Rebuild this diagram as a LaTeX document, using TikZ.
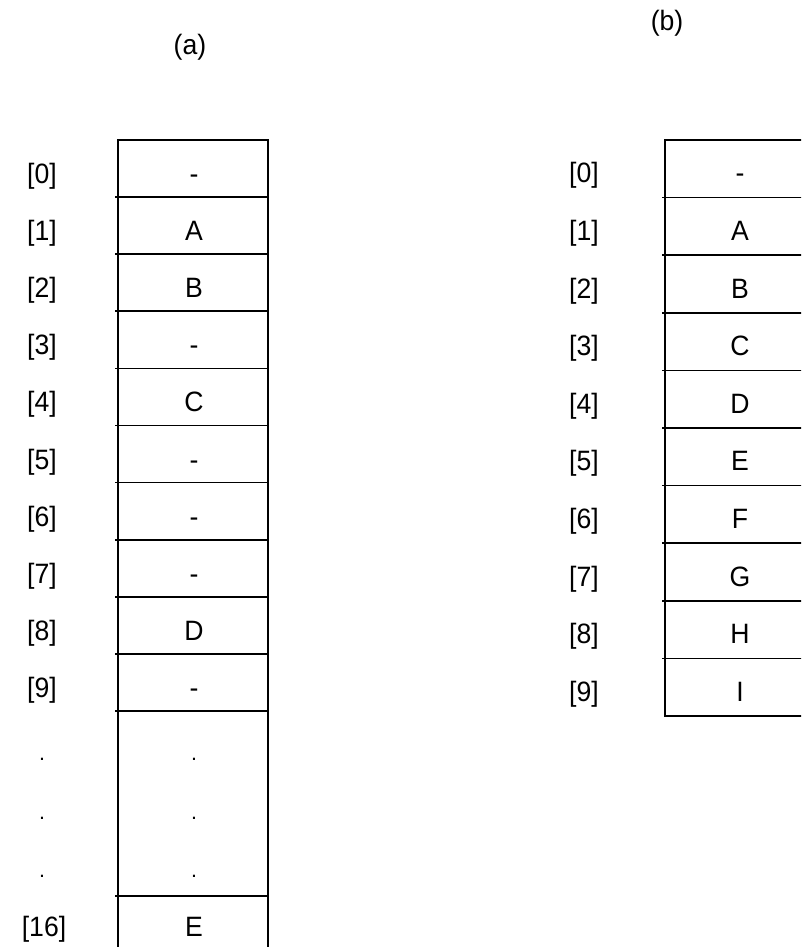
\documentclass[tikz,border=0pt]{standalone}
\usepackage{fontspec}
\setmainfont{Liberation Sans}
\begin{document}
\begin{tikzpicture}[x=0.75pt,y=-0.75pt,
  box/.style={line width=1.3pt, draw=black},
  txt/.style={font=\fontsize{21}{24}\selectfont, inner sep=0pt, anchor=base, xscale=0.95},
  dotlbl/.style={font=\fontsize{16}{20}\selectfont, inner sep=0pt, anchor=center}]
\useasboundingbox (0,0) rectangle (801,947);
\clip (0,0) rectangle (801,947);
% titles
\node[txt] (ta) at (190,54) {(a)};
\node[txt] (tb) at (667,30) {(b)};
% left array
\draw[box] (118,947) -- (118,140) -- (268,140) -- (268,947);
\foreach \k in {1,...,10} {
  \draw[box] (115,{140+57.1*\k}) -- (268,{140+57.1*\k});
}
\draw[box] (115,896) -- (268,896);
\foreach \i/\v in {0/-,1/A,2/B,3/-,4/C,5/-,6/-,7/-,8/D,9/-} {
  \node[txt] (la\i) at (42,{140+57.1*(\i+0.5)+15}) {[\i]};
  \node[txt] (ca\i) at (194,{140+57.1*(\i+0.5)+15}) {\v};
}
\foreach \j/\yy in {1/759,2/818,3/876} {
  \node[dotlbl] (lad\j) at (42,\yy) {.};
  \node[dotlbl] (cad\j) at (194,\yy) {.};
}
\node[txt] (la16) at (44,936) {[16]};
\node[txt] (ca16) at (194,936) {E};
% right array
\draw[box] (815,140) -- (665,140) -- (665,716) -- (815,716);
\foreach \k in {1,...,9} {
  \draw[box] (662,{140+57.6*\k}) -- (815,{140+57.6*\k});
}
\foreach \i/\v in {0/-,1/A,2/B,3/C,4/D,5/E,6/F,7/G,8/H,9/I} {
  \node[txt] (lb\i) at (584,{140+57.6*(\i+0.5)+14}) {[\i]};
  \node[txt] (cb\i) at (740,{140+57.6*(\i+0.5)+14}) {\v};
}
\end{tikzpicture}
\end{document}
